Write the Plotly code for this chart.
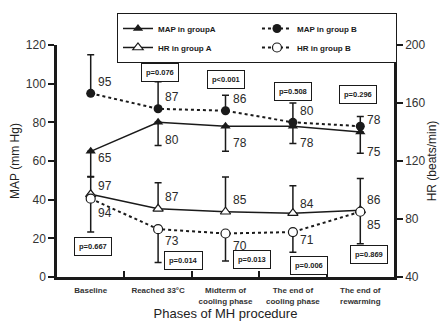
import plotly.graph_objects as go

# Phases of the MH procedure
phases = ["Baseline", "Reached 33°C", "Midterm of<br>cooling phase",
          "The end of<br>cooling phase", "The end of<br>rewarming"]

# Mean arterial pressure (mm Hg)
map_a = [65, 80, 78, 78, 75]
map_a_sd = [13, 12, 13, 9, 11]          # drawn downward
map_b = [95, 87, 86, 80, 78]
map_b_sd = [20, 14, 8, 10, 5]           # drawn upward

# Heart rate (beats/min)
hr_a = [97, 87, 85, 84, 86]
hr_a_sd = [12, 18, 24, 19, 22]          # drawn upward
hr_b = [94, 73, 70, 71, 85]
hr_b_sd = [23, 23, 19, 14, 22]          # drawn downward

# Between-group p values
map_p = ["p<0.001", "p=0.076", "p<0.001", "p=0.508", "p=0.296"]
hr_p = ["p=0.667", "p=0.014", "p=0.013", "p=0.006", "p=0.869"]

x = list(range(len(phases)))
boundaries = [i + 0.5 for i in x[:-1]]
zeros = [0] * len(phases)
INK = "#1a1a1a"
FONT = "Liberation Sans, Arial, sans-serif"

def err(up, down):
    return dict(type="data", symmetric=False, array=up, arrayminus=down,
                color=INK, thickness=1.5, width=3.5)

fig = go.Figure()

fig.add_trace(go.Scatter(
    x=x, y=map_a, name="MAP in groupA", mode="lines+markers",
    line=dict(color=INK, width=1.5),
    marker=dict(symbol="triangle-up", size=9, color=INK),
    error_y=err(zeros, map_a_sd)))
fig.add_trace(go.Scatter(
    x=x, y=map_b, name="MAP in group B", mode="lines+markers",
    line=dict(color=INK, width=2, dash="dot"),
    marker=dict(symbol="circle", size=9, color=INK),
    error_y=err(map_b_sd, zeros)))
fig.add_trace(go.Scatter(
    x=x, y=hr_a, name="HR in group A", mode="lines+markers", yaxis="y2",
    line=dict(color=INK, width=1.5),
    marker=dict(symbol="triangle-up", size=9, color="white",
                line=dict(color=INK, width=1.2)),
    error_y=err(hr_a_sd, zeros)))
fig.add_trace(go.Scatter(
    x=x, y=hr_b, name="HR in group B", mode="lines+markers", yaxis="y2",
    line=dict(color=INK, width=2, dash="dot"),
    marker=dict(symbol="circle", size=9, color="white",
                line=dict(color=INK, width=1.2)),
    error_y=err(zeros, hr_b_sd)))

# value labels beside the markers (vertical offsets in px, + is down)
lab_font = dict(family=FONT, size=12, color="#2a2a2a")
label_sets = [
    (map_a, "y", [7, 18, 17, 17, 20]),
    (map_b, "y", [-11, -12, -12, -11, -6]),
    (hr_a, "y2", [-8, -12, -12, -9, -10]),
    (hr_b, "y2", [14, 12, 12, 8, 13]),
]
for ys, yref, dys in label_sets:
    for i, v in enumerate(ys):
        fig.add_annotation(x=i, y=v, xref="x", yref=yref, text=str(v),
                           showarrow=False, xanchor="left", xshift=5,
                           yshift=-dys[i], font=lab_font)

# p-value boxes
box = dict(showarrow=False, bordercolor=INK, borderwidth=1, borderpad=4,
           bgcolor="white", font=dict(family=FONT, size=7.5, color=INK))
map_p_y = [121.7, 106, 102, 96, 94.5]
map_p_dx = [-3, 2, 0, 0, -2]
hr_p_y = [61.2, 51.5, 52.2, 48, 55.7]
hr_p_dx = [2, 25, 26, 16, 9]
for i in x:
    fig.add_annotation(x=i, y=map_p_y[i], xref="x", yref="y",
                       text="<b>%s</b>" % map_p[i], xshift=map_p_dx[i], **box)
    fig.add_annotation(x=i, y=hr_p_y[i], xref="x", yref="y2",
                       text="<b>%s</b>" % hr_p[i], xshift=hr_p_dx[i], **box)

fig.update_layout(
    width=444, height=324,
    margin=dict(l=57, r=50, t=45, b=47),
    paper_bgcolor="white", plot_bgcolor="white",
    font=dict(family=FONT, color="#333"),
    showlegend=True,
    legend=dict(orientation="h", x=0.178, y=1.138, xanchor="left",
                yanchor="top", bordercolor=INK, borderwidth=1,
                bgcolor="white", entrywidth=94, tracegroupgap=0,
                itemwidth=30,
                font=dict(family=FONT, size=8, color=INK,
                          weight="bold")),
    xaxis=dict(range=[-0.5, 4.5], tickmode="array", automargin=False,
               tickvals=x, ticktext=["<b>%s</b>" % p for p in phases],
               showline=True, linecolor=INK, linewidth=2.5,
               ticks="inside", ticklen=0, tickcolor=INK,
               showgrid=False, zeroline=False,
               ticklabelstandoff=4,
               minor=dict(tickmode="array", tickvals=boundaries,
                          ticks="inside", ticklen=6, tickwidth=2,
                          tickcolor=INK, showgrid=False),
               tickfont=dict(family=FONT, size=8, color="#333"),
               title=dict(text="Phases of MH procedure", standoff=4,
                          font=dict(family=FONT, size=13, color="#222"))),
    yaxis=dict(range=[0, 120], dtick=20, showline=True, linecolor=INK,
               automargin=False,
               linewidth=2.5, ticks="outside", ticklen=6, tickwidth=2,
               tickcolor=INK, showgrid=False, zeroline=False,
               tickfont=dict(family=FONT, size=12, color="#333"),
               title=dict(text="MAP (mm Hg)", standoff=4,
                          font=dict(family=FONT, size=12, color="#222"))),
    yaxis2=dict(range=[40, 200], dtick=40, overlaying="y", side="right",
                automargin=False,
                showline=True, linecolor=INK, linewidth=2.5,
                ticks="outside", ticklen=6, tickwidth=2, tickcolor=INK,
                showgrid=False, zeroline=False,
                tickfont=dict(family=FONT, size=12, color="#333"),
                title=dict(text="HR (beats/min)", standoff=4,
                           font=dict(family=FONT, size=12, color="#222"))),
)

fig.write_html("out.html")
